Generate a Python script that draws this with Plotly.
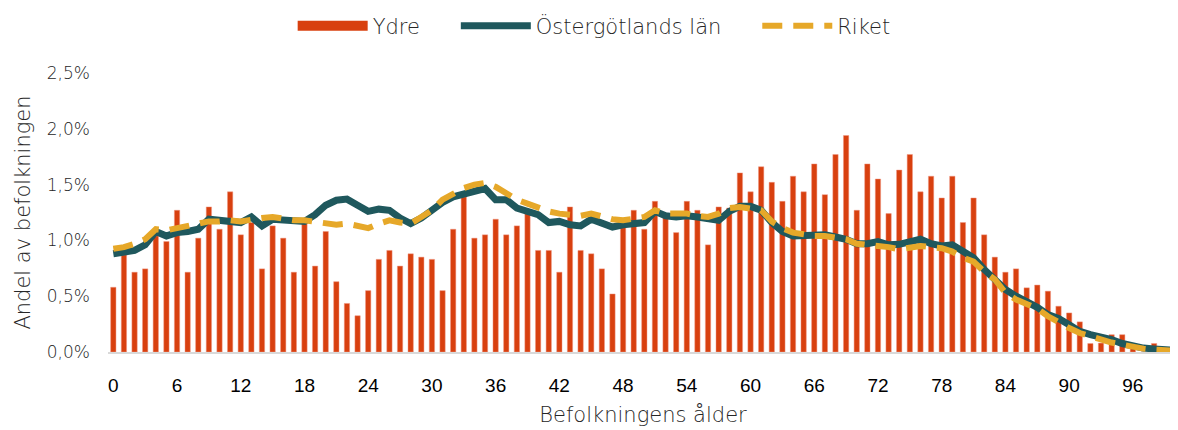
import plotly.graph_objects as go

ages = list(range(0, 101))

ydre = [0.58, 0.87, 0.715, 0.745, 1.04, 0.99, 1.27, 0.715, 1.02, 1.30,
        1.10, 1.435, 1.05, 1.16, 0.745, 1.13, 1.02, 0.715, 1.15, 0.77,
        1.08, 0.63, 0.435, 0.325, 0.55, 0.83, 0.91, 0.77, 0.88, 0.85,
        0.83, 0.55, 1.10, 1.39, 1.02, 1.05, 1.19, 1.05, 1.13, 1.25,
        0.91, 0.91, 0.715, 1.30, 0.91, 0.88, 0.745, 0.52, 1.15, 1.27,
        1.10, 1.35, 1.22, 1.07, 1.35, 1.27, 0.96, 1.30, 1.29, 1.605,
        1.435, 1.66, 1.52, 1.35, 1.575, 1.435, 1.685, 1.41, 1.77, 1.94,
        1.27, 1.685, 1.55, 1.24, 1.63, 1.77, 1.435, 1.575, 1.38, 1.575,
        1.16, 1.38, 1.05, 0.85, 0.715, 0.745, 0.575, 0.60, 0.545, 0.41,
        0.35, 0.27, 0.076, 0.08, 0.155, 0.155, 0.04, 0.0, 0.076, 0.0, 0.0]

ostergotland = [0.88, 0.89, 0.91, 0.96, 1.08, 1.04, 1.07, 1.08, 1.10, 1.19,
                1.18, 1.18, 1.16, 1.21, 1.13, 1.19, 1.18, 1.17, 1.17, 1.23,
                1.315, 1.36, 1.37, 1.315, 1.26, 1.28, 1.27, 1.20, 1.15, 1.20,
                1.27, 1.34, 1.39, 1.42, 1.44, 1.465, 1.365, 1.365, 1.29, 1.26,
                1.23, 1.16, 1.17, 1.14, 1.13, 1.19, 1.15, 1.12, 1.14, 1.15,
                1.16, 1.26, 1.22, 1.21, 1.22, 1.21, 1.19, 1.18, 1.26, 1.305,
                1.305, 1.27, 1.16, 1.08, 1.04, 1.04, 1.04, 1.05, 1.03, 1.01,
                0.97, 0.97, 0.99, 0.96, 0.965, 0.99, 1.01, 0.97, 0.95, 0.96,
                0.90, 0.845, 0.74, 0.65, 0.56, 0.50, 0.455, 0.40, 0.335, 0.30,
                0.245, 0.185, 0.155, 0.135, 0.11, 0.076, 0.05, 0.035, 0.027, 0.02, 0.015]

riket = [0.925, 0.94, 0.97, 1.01, 1.10, 1.09, 1.11, 1.13, 1.14, 1.17,
         1.17, 1.18, 1.17, 1.19, 1.20, 1.21, 1.19, 1.18, 1.18, 1.17,
         1.15, 1.14, 1.15, 1.13, 1.11, 1.15, 1.18, 1.16, 1.15, 1.21,
         1.27, 1.365, 1.425, 1.47, 1.50, 1.515, 1.48, 1.425, 1.365, 1.33,
         1.29, 1.26, 1.24, 1.23, 1.22, 1.24, 1.21, 1.19, 1.18, 1.19,
         1.21, 1.27, 1.24, 1.24, 1.24, 1.22, 1.21, 1.24, 1.29, 1.30,
         1.29, 1.27, 1.17, 1.11, 1.07, 1.05, 1.04, 1.04, 1.02, 1.01,
         0.97, 0.96, 0.96, 0.94, 0.92, 0.93, 0.95, 0.94, 0.93, 0.90,
         0.845, 0.81, 0.72, 0.65, 0.53, 0.47, 0.425, 0.39, 0.32, 0.26,
         0.215, 0.17, 0.14, 0.11, 0.085, 0.065, 0.045, 0.03, 0.02, 0.015, 0.012]

x_ticks = list(range(0, 97, 6))
y_ticks = [0.0, 0.5, 1.0, 1.5, 2.0, 2.5]

RED = "#D8400F"
TEAL = "#1F585D"
GOLD = "#E6A829"
LIGHT = dict(family="'DejaVu Sans', 'Open Sans', sans-serif", weight=200, color="#262626")
NB = "\u00a0"
THIN = "\u2009"

fig = go.Figure()
fig.add_trace(go.Bar(
    x=ages, y=ydre, name="Ydre", showlegend=False,
    marker=dict(color=RED, line=dict(color="rgba(240,150,130,0.8)", width=0.6)),
))
# legend entry for Ydre (wide swatch like the reference)
fig.add_trace(go.Scatter(
    x=[None], y=[None], mode="lines", name="Ydre" + NB * 4 + THIN,
    line=dict(color=RED, width=13),
))
fig.add_trace(go.Scatter(
    x=ages, y=ostergotland, mode="lines", name="Östergötlands län" + NB * 4 + THIN,
    line=dict(color=TEAL, width=7),
))
fig.add_trace(go.Scatter(
    x=ages, y=riket, mode="lines", name="Riket",
    line=dict(color=GOLD, width=6, dash="20px,11px"),
))

# page body has an 8px margin, so the figure is 8px smaller than the window
fig.update_layout(
    width=1170, height=422,
    margin=dict(l=100, r=0, t=65, b=78, autoexpand=False),
    paper_bgcolor="white", plot_bgcolor="white",
    bargap=0.5,
    showlegend=True,
    legend=dict(
        orientation="h", xref="container", x=0.501, xanchor="center",
        yref="container", y=0.957, yanchor="middle",
        font=dict(size=21, **LIGHT), itemwidth=70,
        traceorder="normal",
    ),
    xaxis=dict(
        automargin=False,
        range=[-0.5, 100.25], tickmode="array", tickvals=x_ticks,
        ticktext=[str(v) for v in x_ticks],
        showgrid=False, zeroline=False,
        showline=True, linecolor="#D9D9D9", linewidth=2,
        ticks="", ticklabelstandoff=15,
        tickfont=dict(family="'Liberation Sans Narrow', 'Arial Narrow', 'Liberation Sans', sans-serif",
                      size=19, color="#000000"),
        title=dict(text="Befolkningens ålder", font=dict(size=21, **LIGHT), standoff=13),
    ),
    yaxis=dict(
        automargin=False,
        range=[0, 2.5], tickmode="array", tickvals=y_ticks,
        ticktext=[f"{v:.1f}".replace(".", ",") + "%" for v in y_ticks],
        showgrid=False, zeroline=False, showline=False,
        ticks="", ticklabelstandoff=17,
        tickfont=dict(size=17, **LIGHT),
        title=dict(text="Andel av befolkningen", font=dict(size=21, **LIGHT), standoff=10),
    ),
)

fig.write_html("out.html")
